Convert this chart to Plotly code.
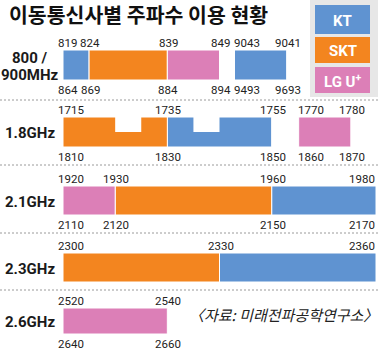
import plotly.graph_objects as go

# ---------------- data ----------------
title = "이동통신사별 주파수 이용 현황"
source = "〈자료: 미래전파공학연구소〉"
carriers = ["KT", "SKT", "LG U+"]
carrier_text = ["KT", "SKT", "LG U<sup>+</sup>"]

bands = ["800 /<br>900MHz", "1.8GHz", "2.1GHz", "2.3GHz", "2.6GHz"]

# segments (uplink MHz)
seg_band = [0, 0, 0, 0, 1, 1, 1, 2, 2, 2, 3, 3, 4]
seg_carrier = ["KT", "SKT", "LG U+", "KT",
               "SKT", "KT", "LG U+",
               "LG U+", "SKT", "KT",
               "SKT", "KT",
               "LG U+"]
seg_start = [819, 824, 839, 905, 1715, 1735, 1770, 1920, 1930, 1960, 2300, 2330, 2520]
seg_end = [824, 839, 849, 915, 1735, 1755, 1780, 1930, 1960, 1980, 2330, 2360, 2540]

# boundary labels as printed
top_labels = [["819", "824", "839", "849", "9043", "9041"],
              ["1715", "1735", "1755", "1770", "1780"],
              ["1920", "1930", "1960", "1980"],
              ["2300", "2330", "2360"],
              ["2520", "2540"]]
bottom_labels = [["864", "869", "884", "894", "9493", "9693"],
                 ["1810", "1830", "1850", "1860", "1870"],
                 ["2110", "2120", "2150", "2170"],
                 [],
                 ["2640", "2660"]]

# unused (white) notches within 1.8GHz blocks
notch_band = [1, 1]
notch_start = [1725, 1740]
notch_end = [1730, 1745]

# ---------------- layout / style ----------------
W, H = 378, 352
X0 = 63.0                 # px where each band row starts
S = 313.0 / 60.0          # px per MHz
colors = {"KT": "#5f93d1", "SKT": "#f3851f", "LG U+": "#dc7fb7"}
row_y = [65, 132, 200.5, 267.5, 321]
bar_h = [30, 30, 29, 29, 26]
gap_px = {0: 15, 1: 27}
sep_y = [100, 165, 233, 290]
num_font = dict(family="Roboto, sans-serif", size=11.5, color="#222")
band_font = dict(family="Roboto, sans-serif", size=15, color="#1a1a1a", weight="bold")

# compute display positions
disp_start = [0.0] * len(seg_start)
boundaries = {b: [] for b in range(len(bands))}
for b in range(len(bands)):
    cursor = 0.0
    prev_end = None
    for i in range(len(seg_start)):
        if seg_band[i] != b:
            continue
        new_group = prev_end is None or seg_start[i] != prev_end
        if prev_end is not None and new_group:
            cursor += gap_px.get(b, 0) / S
        if new_group:
            boundaries[b].append((cursor, "first" if prev_end is None else "group"))
        disp_start[i] = cursor
        cursor += seg_end[i] - seg_start[i]
        boundaries[b].append((cursor, "end"))
        prev_end = seg_end[i]

fig = go.Figure()
for c in carriers:
    idx = [i for i in range(len(seg_start)) if seg_carrier[i] == c]
    fig.add_trace(go.Bar(
        orientation="h",
        y=[row_y[seg_band[i]] for i in idx],
        x=[seg_end[i] - seg_start[i] for i in idx],
        base=[disp_start[i] for i in idx],
        width=[bar_h[seg_band[i]] for i in idx],
        marker=dict(color=colors[c], line=dict(color="white", width=1)),
        hoverinfo="skip", name=c))

# notches
nx, nb, ny, nw = [], [], [], []
for k in range(len(notch_band)):
    b = notch_band[k]
    for i in range(len(seg_start)):
        if seg_band[i] == b and seg_start[i] <= notch_start[k] < seg_end[i]:
            nb.append(disp_start[i] + notch_start[k] - seg_start[i])
            nx.append(notch_end[k] - notch_start[k])
    ny.append(row_y[b] - bar_h[b] / 2 + bar_h[b] / 4 - 0.5)
    nw.append(bar_h[b] / 2 + 1)
fig.add_trace(go.Bar(orientation="h", y=ny, x=nx, base=nb, width=nw,
                     marker=dict(color="white", line=dict(width=0)), hoverinfo="skip"))

ann = []
shapes = []
def px2x(p):
    return (p - X0) / S

for b in range(len(bands)):
    top = row_y[b] - bar_h[b] / 2
    bot = row_y[b] + bar_h[b] / 2
    for labels, yy in ((top_labels[b], top - 7), (bottom_labels[b], bot + 10)):
        for (pos, kind), txt in zip(boundaries[b], labels):
            if kind == "first":
                xa, xs = "left", -7
            elif kind == "group":
                xa, xs = "left", -3
            elif pos >= 59.9:
                xa, xs = "right", 1
            else:
                xa, xs = "center", 1
            ann.append(dict(x=pos, y=yy, xref="x", yref="y", text=txt, showarrow=False,
                            xanchor=xa, yanchor="middle", xshift=xs, font=num_font))
    lines = bands[b].split("<br>")
    n = len(lines)
    for j, ln in enumerate(lines):
        ann.append(dict(x=px2x(30), y=row_y[b] + 1 + (j - (n - 1) / 2) * 17, xref="x", yref="y",
                        text=ln, showarrow=False, xanchor="center", yanchor="middle", font=band_font))

for yy in sep_y:
    shapes.append(dict(type="line", xref="x", yref="y", x0=px2x(0), x1=px2x(W), y0=yy, y1=yy,
                       line=dict(color="#9a9a9a", width=1, dash="2px,2px"), layer="below"))

# legend panel
shapes.append(dict(type="rect", xref="x", yref="y", x0=px2x(310), x1=px2x(W + 2), y0=-2, y1=97,
                   fillcolor="#e7e7e7", line=dict(width=0), layer="below"))
box_y = [(5, 34), (37, 63), (67, 93)]
for c, t, (y0, y1) in zip(carriers, carrier_text, box_y):
    shapes.append(dict(type="rect", xref="x", yref="y", x0=px2x(315), x1=px2x(370), y0=y0, y1=y1,
                       fillcolor=colors[c], line=dict(width=0), layer="below"))
    ann.append(dict(x=px2x(342.5), y=(y0 + y1) / 2 + 1, xref="x", yref="y", text=t, showarrow=False,
                    xanchor="center", yanchor="middle",
                    font=dict(family="Roboto, sans-serif", size=15, color="white", weight="bold")))

ann.append(dict(x=px2x(7), y=14, xref="x", yref="y", text=title, showarrow=False,
                xanchor="left", yanchor="middle",
                font=dict(family="Noto Sans CJK KR", size=20.5, color="#111", weight="bold")))
ann.append(dict(x=px2x(283), y=314, xref="x", yref="y", text=source, showarrow=False,
                xanchor="center", yanchor="middle",
                font=dict(family="Noto Sans CJK KR", size=15, color="#222", style="italic")))

fig.update_layout(
    width=W, height=H, margin=dict(l=0, r=0, t=0, b=0),
    paper_bgcolor="white", plot_bgcolor="white",
    barmode="overlay", showlegend=False,
    xaxis=dict(range=[px2x(0), px2x(W)], visible=False, fixedrange=True),
    yaxis=dict(range=[H, 0], visible=False, fixedrange=True),
    annotations=ann, shapes=shapes)

fig.write_html("out.html", config={"displayModeBar": False})
